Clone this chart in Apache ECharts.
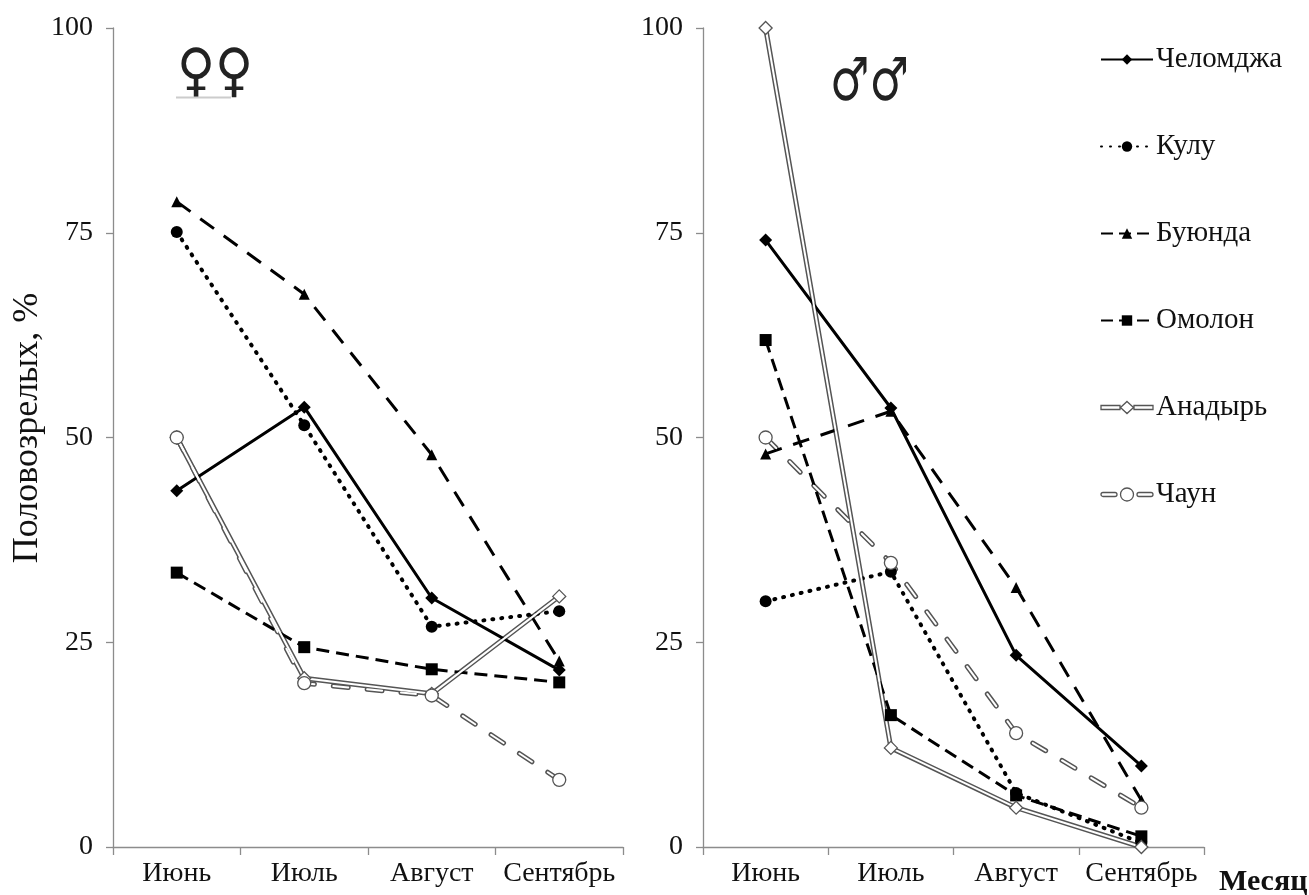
<!DOCTYPE html>
<html>
<head>
<meta charset="utf-8">
<style>
  html, body { margin: 0; padding: 0; background: #fff; }
  #chart { width: 1309px; height: 895px; }
</style>
<script src="https://cdn.jsdelivr.net/npm/echarts@6/dist/echarts.min.js"></script>
</head>
<body>
<div id="chart"></div>
<script>
// Months (x categories) and y ticks
const months = ['Июнь', 'Июль', 'Август', 'Сентябрь'];
const yTicks = [0, 25, 50, 75, 100];

// Share of mature fish, %, females (left panel)
const femChelomdzha = [43.5, 53.7, 30.4, 21.6];
const femKulu       = [75.1, 51.5, 26.9, 28.8];
const femBuyunda    = [78.8, 67.5, 47.9, 22.7];
const femOmolon     = [33.5, 24.4, 21.7, 20.1];
const femAnadyr     = [50.0, 20.6, 18.7, 30.6];
const femChaun      = [50.0, 20.0, 18.5, 8.2];

// Share of mature fish, %, males (right panel)
const malChelomdzha = [74.1, 53.6, 23.4, 9.9];
const malKulu       = [30.0, 33.6, 6.6, 0.5];
const malBuyunda    = [48.0, 53.2, 31.7, 5.7];
const malOmolon     = [61.9, 16.1, 6.3, 1.3];
const malAnadyr     = [100, 12.1, 4.8, 0];
const malChaun      = [50.0, 34.7, 13.9, 4.8];

const SERIF = "'Liberation Serif', 'Times New Roman', serif";
const AXIS_GRAY = '#8c8c8c';
const DOUBLE_GRAY = '#555';

// Line styles per river
const styles = {
  'Челомджа': { kind: 'black', type: 'solid', symbol: 'diamond', size: 13 },
  'Кулу':     { kind: 'black', type: [1, 8], cap: 'round', width: 4, symbol: 'circle', size: 12 },
  'Буюнда':   { kind: 'black', type: [17, 12], symbol: 'triangle', size: 11 },
  'Омолон':   { kind: 'black', type: [13, 7], symbol: 'rect', size: 12 },
  'Анадырь':  { kind: 'double', type: 'solid', symbol: 'diamond', size: 13 },
  'Чаун':     { kind: 'double', type: [15, 19], symbol: 'circle', size: 13 }
};

function panelSeries(idx, name, data) {
  const s = styles[name];
  const out = [];
  if (s.kind === 'black') {
    out.push({
      name: name, type: 'line', xAxisIndex: idx, yAxisIndex: idx, data: data,
      symbol: s.symbol, symbolSize: s.size, showSymbol: true,
      itemStyle: { color: '#000' },
      lineStyle: { color: '#000', width: s.width || 3, type: s.type, cap: s.cap || 'butt' },
      z: 3, animation: false
    });
  } else {
    // outer grey stroke
    out.push({
      name: name, type: 'line', xAxisIndex: idx, yAxisIndex: idx, data: data,
      showSymbol: false, symbol: 'none',
      lineStyle: { color: DOUBLE_GRAY, width: 5, type: s.type, cap: 'round' },
      z: 2, animation: false
    });
    // inner white stroke with hollow markers
    out.push({
      name: name, type: 'line', xAxisIndex: idx, yAxisIndex: idx, data: data,
      symbol: s.symbol, symbolSize: s.size, showSymbol: true,
      itemStyle: { color: '#fff', borderColor: DOUBLE_GRAY, borderWidth: 1.3 },
      lineStyle: { color: '#fff', width: 2, type: s.type, cap: 'round' },
      z: 3, animation: false
    });
  }
  return out;
}

const names = Object.keys(styles);
const femData = [femChelomdzha, femKulu, femBuyunda, femOmolon, femAnadyr, femChaun];
const malData = [malChelomdzha, malKulu, malBuyunda, malOmolon, malAnadyr, malChaun];

let series = [];
names.forEach((n, i) => { series = series.concat(panelSeries(0, n, femData[i])); });
names.forEach((n, i) => { series = series.concat(panelSeries(1, n, malData[i])); });

// Legend icons for the double-stroke rivers
const anadyrIcon = 'path://M0,4 L19,4 L19,8 L0,8 Z M33,4 L52,4 L52,8 L33,8 Z M26,0 L32.5,6 L26,12 L19.5,6 Z';
const chaunIcon = 'path://M2,4 L14,4 A2,2 0 0,1 14,8 L2,8 A2,2 0 0,1 2,4 Z M38,4 L50,4 A2,2 0 0,1 50,8 L38,8 A2,2 0 0,1 38,4 Z M32.5,6 A6.5,6.5 0 1,1 19.5,6 A6.5,6.5 0 1,1 32.5,6 Z';

const legendData = [
  { name: 'Челомджа' },
  { name: 'Кулу' },
  { name: 'Буюнда', lineStyle: { type: [12, 6] } },
  { name: 'Омолон', lineStyle: { type: [12, 6] } },
  { name: 'Анадырь', icon: anadyrIcon, itemStyle: { color: '#fff', borderColor: DOUBLE_GRAY, borderWidth: 1.3 } },
  { name: 'Чаун', icon: chaunIcon, itemStyle: { color: '#fff', borderColor: DOUBLE_GRAY, borderWidth: 1.3 } }
];

function xAx(idx) {
  return {
    type: 'category', gridIndex: idx, data: months, boundaryGap: true,
    axisLine: { lineStyle: { color: AXIS_GRAY, width: 1.3 } },
    axisTick: { show: true, interval: 0, alignWithLabel: false, length: 8, lineStyle: { color: AXIS_GRAY, width: 1.3 } },
    axisLabel: { color: '#111', fontFamily: SERIF, fontSize: 28, margin: 13, interval: 0 },
    splitLine: { show: false }
  };
}
function yAx(idx) {
  return {
    type: 'value', gridIndex: idx, min: yTicks[0], max: yTicks[yTicks.length - 1], interval: 25,
    axisLine: { show: true, lineStyle: { color: AXIS_GRAY, width: 1.3 } },
    axisTick: { show: true, length: 7, lineStyle: { color: AXIS_GRAY, width: 1.3 } },
    axisLabel: { color: '#111', fontFamily: SERIF, fontSize: 28, margin: 20 },
    splitLine: { show: false }
  };
}

const chart = echarts.init(document.getElementById('chart'), null, { renderer: 'canvas' });
chart.setOption({
  backgroundColor: '#fff',
  animation: false,
  grid: [
    { left: 113, top: 28, width: 510, height: 819 },
    { left: 703, top: 28, width: 501, height: 819 }
  ],
  xAxis: [xAx(0), xAx(1)],
  yAxis: [yAx(0), yAx(1)],
  legend: {
    orient: 'vertical', left: 1095, top: 40,
    itemWidth: 52, itemHeight: 13, itemGap: 58,
    textStyle: { color: '#111', fontFamily: SERIF, fontSize: 29, lineHeight: 28, padding: [0, 0, 0, -2] },
    data: legendData,
    selectedMode: false
  },
  graphic: [
    {
      type: 'text', x: 28, y: 428, rotation: Math.PI / 2,
      style: { text: 'Половозрелых, %', font: "36px 'Liberation Serif'", fill: '#111', align: 'center', verticalAlign: 'middle' }
    },
    // sex signs, thinned with a white outline stroke painted over the fill
    { type: 'text', x: 177, y: 46, scaleY: 1.12, style: { text: '♀♀', font: "52px 'DejaVu Sans'", fill: '#222', stroke: '#fff', lineWidth: 2.4, strokeFirst: false, verticalAlign: 'top' } },
    { type: 'line', shape: { x1: 176, y1: 97.5, x2: 231, y2: 97.5 }, style: { stroke: '#ccc', lineWidth: 2 } },
    { type: 'text', x: 830, y: 55, scaleY: 1.35, style: { text: '♂♂', font: "44px 'DejaVu Sans'", fill: '#222', stroke: '#fff', lineWidth: 1.8, strokeFirst: false, verticalAlign: 'top' } },
    { type: 'text', x: 1219, y: 882, style: { text: 'Месяц', font: "bold 30px 'Liberation Serif'", fill: '#111', verticalAlign: 'middle' } }
  ],
  series: series
});
</script>
</body>
</html>
